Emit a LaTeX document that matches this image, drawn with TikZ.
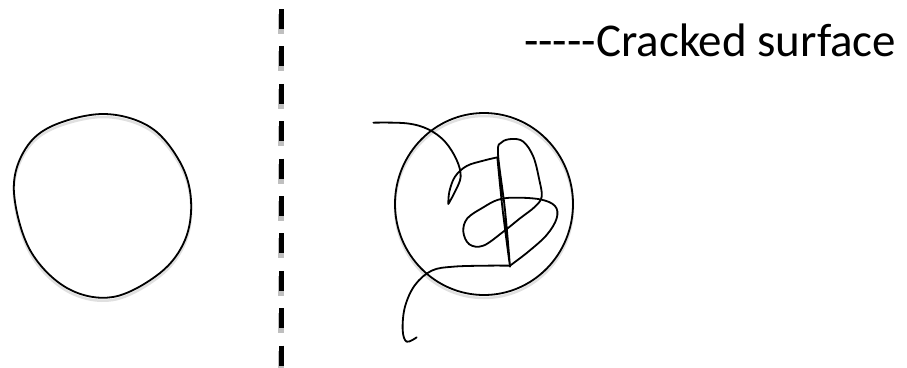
\documentclass[tikz,border=0pt]{standalone}
\usepackage{fontspec}
\setmainfont{Carlito}[Ligatures=ResetAll]
\begin{document}
\begin{tikzpicture}[x=1pt,y=-1pt,
  ink/.style={line width=1.8pt,black,line cap=round,line join=round},
  shade/.style={line width=2.5pt,black!12,line cap=round},
  cut/.style={line width=5pt,dash pattern=on 20pt off 17.4pt},
  caption/.style={font=\fontsize{47}{52}\selectfont,anchor=base west,inner sep=0pt}]
\useasboundingbox (0,0) rectangle (907,367);
% dashed divider
\coordinate (dtop) at (281,9);
\coordinate (dbot) at (281,366);
\draw[cut,black!25,line width=6pt] ([yshift=-5pt]dtop) -- ([yshift=-5pt]dbot);
\draw[cut] (dtop) -- (dbot);
% left particle
\draw[shade,shift={(0,3)}] plot[smooth cycle,tension=0.6] coordinates {(103,114)(150,127)(180,162)(191,200)(185,240)(160,273)(113,297)(67,288)(30,250)(14,193)(23,153)(50,127)};
\draw[ink] plot[smooth cycle,tension=0.6] coordinates {(103,114)(150,127)(180,162)(191,200)(185,240)(160,273)(113,297)(67,288)(30,250)(14,193)(23,153)(50,127)};
% right particle
\draw[shade] (484,207) ellipse (89 and 91);
\draw[ink] (484,204) ellipse (89 and 91);
% crack scribble
\begin{scope}[shift={(360,100)},scale=1/3]
\draw[ink] plot[smooth,tension=0.6] coordinates {(40,68)(140,70)(205,88)(255,125)(290,180)(302,230)(285,275)(265,312)}
  plot[smooth,tension=0.6] coordinates {(265,312)(268,275)(285,230)(320,198)(370,182)(412,172)}
  plot[smooth,tension=0.6] coordinates {(412,172)(428,330)(450,500)}
  plot[smooth,tension=0.6] coordinates {(450,500)(435,330)(414,160)(425,127)(455,117)(490,125)(520,170)(538,240)(545,290)(525,320)(480,355)(430,395)(370,437)(328,433)(310,395)(322,355)(370,322)(412,300)(460,293)(540,298)(585,318)(590,355)(560,405)(505,455)(450,497)}
  plot[smooth,tension=0.6] coordinates {(450,497)(380,497)(280,500)(215,512)(165,555)(135,620)(128,690)(140,725)(170,712)};
\end{scope}
% caption
\node[caption] (lbl) at (524,56) {-{}-{}-{}-{}-Cracked surface};
\end{tikzpicture}
\end{document}
